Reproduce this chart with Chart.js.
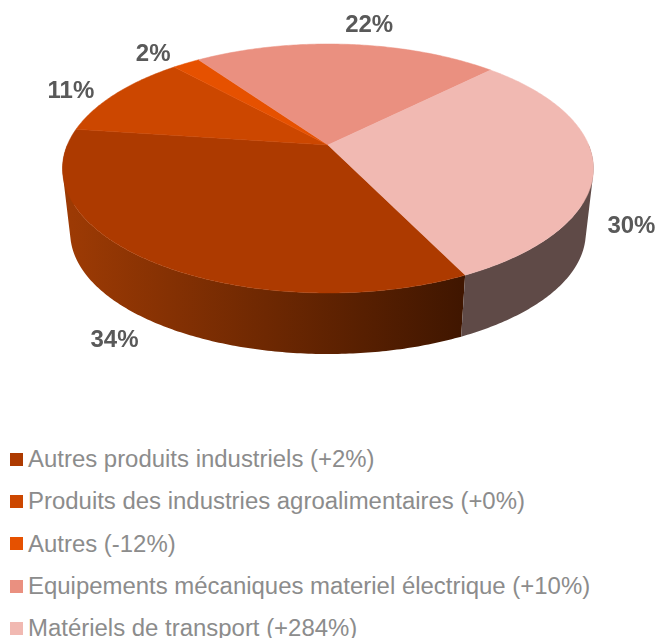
<!DOCTYPE html>
<html lang="fr">
<head>
<meta charset="utf-8">
<style>
html,body{margin:0;padding:0;background:#fff;width:656px;height:638px;overflow:hidden;position:relative}
#c{position:absolute;left:0;top:0;display:block}
#legend{position:absolute;left:0;top:438px;width:656px;font-family:"Liberation Sans",Arial,sans-serif;font-size:23.95px;color:#8c8c8c}
.row{height:42.3px;display:flex;align-items:center;white-space:nowrap}
.sw{width:13px;height:13px;margin-left:10px;margin-right:5px;flex:none}
</style>
</head>
<body>
<canvas id="c" width="656" height="438"></canvas>
<div id="legend"></div>
<script src="https://cdn.jsdelivr.net/npm/chart.js@4/dist/chart.umd.js"></script>
<script>
const categories = [
  "Autres produits industriels (+2%)",
  "Produits des industries agroalimentaires (+0%)",
  "Autres (-12%)",
  "Equipements mécaniques materiel électrique (+10%)",
  "Matériels de transport (+284%)"
];
const shares = [34, 11, 2, 22, 30];
const topColors = ["#ad3a00", "#cc4700", "#e65100", "#ea9080", "#f1b9b2"];
const sideFrom = ["#9c3a04", "#8f3300", "#a03800", "#a36457", "#5f4a47"];
const sideTo = ["#401600", "#8f3300", "#a03800", "#a36457", "#5f4a47"];
const labelOffsets = [[-33, 80.5], [-45, -2.5], [-33, -8.5], [22, -18.5], [38, 61]];

// Perspective of the tilted disc: top face and bottom face
const topFace = {x0: 328, y0: 145, a: 260.7, b: 120.07, k: 0.1887};
const botFace = {x0: 328, y0: 210.3, a: 253.1, b: 116.6, k: 0.1887};
const project = (f, ang) => {
  const u = Math.cos(ang), v = Math.sin(ang), w = 1 - f.k * v;
  return [f.x0 + f.a * u / w, f.y0 + f.b * v / w];
};
const steps = (s, e) => {
  const n = Math.max(2, Math.ceil((e - s) / 0.012)), out = [];
  for (let i = 0; i <= n; i++) out.push(s + (e - s) * i / n);
  return out;
};
const signedArea = p => p.reduce((sum, q, n) => {
  const r = p[(n + 1) % p.length];
  return sum + q[0] * r[1] - r[0] * q[1];
}, 0);

const pie3d = {
  id: 'pie3d',
  beforeDatasetsDraw(chart) {
    const ctx = chart.ctx, arcs = chart.getDatasetMeta(0).data;
    ctx.save();
    // side walls: only the front of the rim, all strips of a slice in one path
    arcs.forEach((arc, i) => {
      const g = ctx.createLinearGradient(72, 0, 461, 0);
      g.addColorStop(0, sideFrom[i]);
      g.addColorStop(1, sideTo[i]);
      ctx.fillStyle = g;
      const a = steps(arc.startAngle, arc.endAngle);
      ctx.beginPath();
      for (let j = 0; j < a.length - 1; j++) {
        if (Math.sin(a[j]) < 0 && Math.sin(a[j + 1]) < 0) continue;
        const p = [project(topFace, a[j]), project(topFace, a[j + 1]),
                   project(botFace, a[j + 1]), project(botFace, a[j])];
        if (signedArea(p) < 0) p.reverse();
        p.forEach((q, n) => n ? ctx.lineTo(q[0], q[1]) : ctx.moveTo(q[0], q[1]));
        ctx.closePath();
      }
      ctx.fill('nonzero');
    });
    // top face
    arcs.forEach((arc, i) => {
      ctx.beginPath();
      ctx.moveTo(topFace.x0, topFace.y0);
      steps(arc.startAngle, arc.endAngle).forEach(t => {
        const p = project(topFace, t);
        ctx.lineTo(p[0], p[1]);
      });
      ctx.closePath();
      ctx.fillStyle = topColors[i]; ctx.strokeStyle = topColors[i]; ctx.lineWidth = 0.5;
      ctx.fill(); ctx.stroke();
    });
    // value labels
    ctx.font = 'bold 24px "Liberation Sans", Arial, sans-serif';
    ctx.fillStyle = '#595959';
    ctx.textAlign = 'center';
    ctx.textBaseline = 'middle';
    arcs.forEach((arc, i) => {
      const p = project(topFace, (arc.startAngle + arc.endAngle) / 2);
      ctx.fillText(shares[i] + '%', p[0] + labelOffsets[i][0], p[1] + labelOffsets[i][1]);
    });
    ctx.restore();
    return false;
  }
};

new Chart(document.getElementById('c'), {
  type: 'pie',
  data: {labels: categories, datasets: [{data: shares, backgroundColor: topColors, borderWidth: 0}]},
  options: {
    responsive: false,
    animation: false,
    rotation: 154.1,
    plugins: {legend: {display: false}, tooltip: {enabled: false}}
  },
  plugins: [pie3d]
});

const legend = document.getElementById('legend');
categories.forEach((name, i) => {
  const row = document.createElement('div');
  row.className = 'row';
  const sw = document.createElement('span');
  sw.className = 'sw';
  sw.style.background = topColors[i];
  const tx = document.createElement('span');
  tx.textContent = name;
  row.append(sw, tx);
  legend.append(row);
});
</script>
</body>
</html>
